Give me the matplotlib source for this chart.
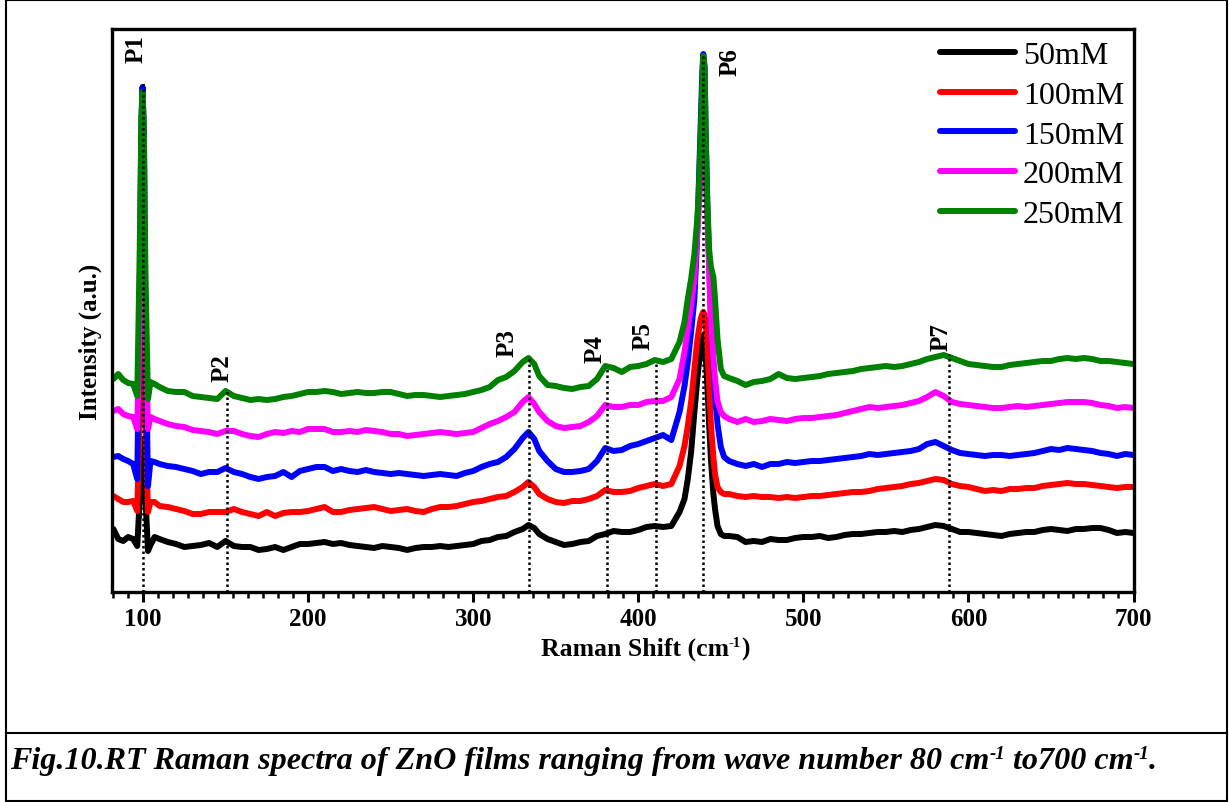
import matplotlib
matplotlib.use('Agg')
import matplotlib.pyplot as plt
from matplotlib.ticker import AutoMinorLocator
from matplotlib.lines import Line2D
from matplotlib.patches import Rectangle

plt.rcParams['font.family'] = ['Liberation Serif', 'DejaVu Serif']

# ---------------- data ----------------
raman_shift = [82, 85, 88, 91, 94,
               96.5, 98, 99, 99.7, 100.5, 101.5, 103, 104.5,
               107, 110, 115, 120, 125, 130, 135, 140, 145, 150, 155, 160, 165, 170, 175, 180,
               185, 190, 195, 200, 205, 210, 215, 220, 225, 230, 235, 240, 245, 250, 255, 260,
               265, 270, 275, 280, 285, 290, 295, 300, 305, 310, 315, 320, 325, 330, 333.5, 337,
               340, 345, 350, 355, 360, 365, 370, 375, 380, 385, 390, 395, 400, 405, 410, 415, 420,
               425, 428, 430, 432, 434, 435.5, 436.5, 437.8, 438.8, 439.4, 440.2, 440.8, 441.8,
               442.9, 444, 445.5, 446.5, 448, 450, 452, 455,
               460, 465, 470, 475, 480, 485, 490, 495, 500, 505, 510, 515, 520, 525, 530, 535,
               540, 545, 550, 555, 560, 565, 570, 575, 580, 585, 590, 595, 600, 605, 610, 615,
               620, 625, 630, 635, 640, 645, 650, 655, 660, 665, 670, 675, 680, 685, 690, 695, 700]

int_50mM = [63, 53, 51, 55, 53,
            46, 93, 133, 153, 133, 93, 41, 47,
            55, 53, 50, 48, 45, 46, 47, 49, 45, 51, 46, 45, 45, 42, 43, 45, 42, 45, 48, 48, 49, 50,
            48, 49, 47, 46, 45, 44, 46, 45, 44, 42, 44, 45, 45, 46, 45, 46, 47, 48, 51, 52, 55, 56,
            60, 63, 67, 64, 58, 53, 50, 47, 48, 50, 51, 56, 58, 61, 60, 60, 62, 65, 66, 65, 66,
            80, 93, 113, 140, 180, 208, 225, 241, 253, 257, 253, 238, 208, 168, 133, 98, 83, 66,
            58, 56, 56,
            55, 50, 51, 50, 53, 52, 52, 54, 55, 55, 56, 54, 55, 57, 58, 58, 59, 60, 60, 61, 60, 62,
            63, 65, 67, 66, 63, 60, 60, 59, 58, 57, 56, 58, 59, 60, 60, 62, 63, 62, 61, 63, 63, 64,
            64, 62, 59, 60, 59]

int_100mM = [96, 93, 90, 90, 91,
             81, 173, 293, 333, 293, 173, 80, 90,
             90, 86, 85, 83, 81, 78, 78, 80, 80, 80, 83, 80, 78, 76, 80, 76, 79, 80, 80, 81, 83, 85,
             80, 80, 82, 83, 84, 85, 83, 81, 82, 83, 81, 80, 83, 85, 85, 86, 88, 90, 91, 93, 95, 96,
             100, 105, 110, 105, 98, 93, 90, 89, 91, 91, 93, 96, 102, 100, 100, 101, 104, 106, 108,
             106, 108,
             126, 146, 166, 190, 223, 248, 260, 273, 278, 280, 277, 271, 248, 208, 168, 135, 118,
             105, 100, 98, 98,
             96, 95, 96, 95, 95, 94, 95, 94, 95, 96, 96, 97, 98, 99, 100, 100, 101, 103, 104, 105,
             106, 108, 109, 111, 113, 112, 108, 106, 105, 103, 101, 102, 101, 103, 103, 104, 104,
             106, 107, 108, 109, 108, 108, 107, 106, 105, 104, 105, 105]

int_150mM = [135, 136, 133, 131, 128,
             113, 293, 473, 505, 463, 273, 106, 131,
             130, 128, 126, 125, 123, 121, 118, 120, 120, 124, 120, 118, 115, 113, 115, 116, 120,
             115, 121, 123, 125, 125, 121, 123, 121, 120, 122, 120, 119, 118, 119, 118, 117, 116,
             117, 118, 117, 116, 119, 121, 125, 128, 130, 135, 143, 154, 160, 153, 141, 131, 123,
             120, 120, 121, 123, 131, 144, 141, 142, 146, 148, 151, 154, 157, 152,
             180, 206, 230, 260, 293, 348, 398, 468, 521, 538, 523, 463, 388, 333, 273, 228, 196,
             168, 145, 135, 131,
             128, 126, 128, 125, 128, 128, 130, 129, 130, 131, 131, 132, 133, 134, 135, 136, 138,
             137, 138, 139, 140, 141, 143, 148, 150, 146, 142, 139, 138, 137, 136, 137, 137, 136,
             137, 138, 139, 141, 143, 142, 144, 143, 142, 141, 139, 138, 136, 138, 137]

int_200mM = [181, 183, 178, 176, 175,
             163, 273, 393, 443, 393, 263, 163, 175,
             173, 171, 168, 166, 165, 162, 161, 160, 158, 161, 161, 158, 156, 155, 158, 160, 159,
             161, 160, 163, 163, 163, 160, 160, 161, 160, 162, 161, 160, 158, 158, 156, 157, 158,
             159, 160, 159, 158, 159, 160, 164, 168, 171, 175, 180, 190, 195, 188, 180, 171, 166,
             164, 165, 166, 170, 176, 187, 185, 185, 187, 187, 190, 191, 191, 195,
             213, 240, 263, 286, 313, 353, 378, 418, 448, 458, 448, 418, 378, 323, 273, 233, 213,
             191, 180, 176, 173,
             170, 173, 170, 171, 173, 172, 171, 173, 174, 174, 175, 176, 177, 179, 181, 183, 185,
             184, 185, 186, 187, 189, 191, 195, 200, 196, 190, 188, 187, 186, 185, 184, 184, 185,
             186, 185, 186, 187, 188, 189, 190, 190, 190, 189, 187, 186, 184, 185, 184]

int_250mM = [213, 218, 212, 209, 208,
             196, 343, 473, 500, 463, 313, 193, 210,
             208, 205, 201, 200, 200, 196, 195, 194, 193, 201, 196, 194, 192, 193, 192, 193, 195,
             196, 198, 200, 200, 201, 200, 198, 199, 200, 199, 199, 200, 200, 198, 196, 197, 197,
             196, 195, 196, 197, 198, 200, 202, 205, 212, 215, 221, 230, 234, 228, 216, 207, 206,
             204, 203, 205, 206, 213, 226, 224, 220, 225, 226, 228, 232, 230, 233,
             250, 270, 293, 313, 338, 368, 393, 453, 508, 536, 526, 460, 393, 343, 325, 315, 293,
             253, 223, 216, 214,
             211, 207, 210, 211, 213, 218, 214, 213, 214, 215, 216, 218, 219, 220, 221, 223, 224,
             225, 226, 225, 226, 228, 230, 233, 235, 237, 234, 231, 228, 227, 226, 225, 225, 227,
             228, 229, 230, 231, 231, 233, 234, 233, 234, 233, 231, 231, 230, 229, 228]

series_labels = ['50mM', '100mM', '150mM', '200mM', '250mM']
series_colors = ['#000000', '#ff0000', '#0000ff', '#ff00ff', '#008000']
series_values = [int_50mM, int_100mM, int_150mM, int_200mM, int_250mM]

peak_names = ['P1', 'P2', 'P3', 'P4', 'P5', 'P6', 'P7']
peak_pos = [100, 151, 334, 381, 410.7, 439.4, 588]
peak_line_top = [511, 203, 235, 226, 230, 538, 238]
peak_label_x = [95.8, 147.9, 320.6, 373.9, 403, 455.8, 583.4]
peak_label_y = [530, 211, 236, 230, 243, 517, 242]

x_ticks = [100, 200, 300, 400, 500, 600, 700]

for v in series_values:
    assert len(v) == len(raman_shift), len(v)

# ---------------- figure ----------------
W, H = 1229, 803
fig = plt.figure(figsize=(W / 100, H / 100), dpi=100)
ax = fig.add_axes([112 / W, 1 - 593 / H, 1022 / W, 563 / H])

for vals, lab, col in zip(series_values, series_labels, series_colors):
    ax.plot(raman_shift, vals, color=col, lw=4.3, label=lab,
            solid_joinstyle='round', solid_capstyle='round')

for xp, top in zip(peak_pos, peak_line_top):
    ax.plot([xp, xp], [0, top], color='black', lw=1.8,
            linestyle=(0, (1, 1.2)), zorder=10)

for name, lx, ly in zip(peak_names, peak_label_x, peak_label_y):
    ax.text(lx, ly, name, rotation=90, ha='center', va='bottom',
            fontsize=18, fontweight='bold', zorder=11)

ax.set_xlim(81.2, 700.3)
ax.set_ylim(0, 563)
ax.set_xticks(x_ticks)
ax.set_xticklabels([str(t) for t in x_ticks], fontweight='bold', fontsize=18)
ax.xaxis.set_minor_locator(AutoMinorLocator(11))
ax.tick_params(axis='x', which='major', direction='out', length=7.2, width=2.2,
               pad=3.5, top=False)
ax.tick_params(axis='x', which='minor', direction='out', length=4.3, width=1.8, top=False)
ax.tick_params(axis='y', which='both', left=False, right=False, labelleft=False)
for sp in ax.spines.values():
    sp.set_linewidth(2.4)

fig.text(90 / W, 1 - 342 / H, 'Intensity (a.u.)', rotation=90, ha='center', va='center',
         fontsize=18, fontweight='bold')

leg = ax.legend(loc='upper left', bbox_to_anchor=(940 / W, 1 - 42 / H),
                bbox_transform=fig.transFigure, frameon=False, fontsize=23,
                handlelength=2.35, handletextpad=0.25, labelspacing=0.32,
                borderpad=0, borderaxespad=0)


# ---------- text with superscripts laid out piece by piece ----------
def rich_text(pieces, x_px, base_px, align='left', **kw):
    renderer = fig.canvas.get_renderer()
    arts = []
    widths = []
    for s, size, rise in pieces:
        t = fig.text(0, 0, s, fontsize=size, va='baseline', ha='left', **kw)
        widths.append(t.get_window_extent(renderer).width)
        arts.append((t, rise))
    total = sum(widths)
    x = x_px - (total / 2 if align == 'center' else 0)
    for (t, rise), w in zip(arts, widths):
        t.set_position((x / W, 1 - (base_px - rise) / H))
        x += w


rich_text([('Raman Shift (cm', 18.5, 0), ('-1', 10.5, 9), (')', 18.5, 0)],
          645, 656, align='center', fontweight='bold')

# outer table frame, divider, caption
fig.add_artist(Rectangle((6 / W, 1 / H), (1227 - 6) / W, (802 - 1) / H,
                         transform=fig.transFigure, fill=False, lw=1.5, ec='black'))
fig.add_artist(Line2D([6 / W, 1227 / W], [1 - 734 / H, 1 - 734 / H],
                      transform=fig.transFigure, color='black', lw=1.5))
rich_text([('Fig.10.RT Raman spectra of ZnO films ranging from wave number 80 cm', 23.1, 0),
           ('-1', 13.5, 10), (' to700 cm', 23.1, 0), ('-1', 13.5, 10), ('.', 23.1, 0)],
          10, 769, align='left', fontweight='bold', fontstyle='italic')

fig.savefig('out.png', dpi=100)
